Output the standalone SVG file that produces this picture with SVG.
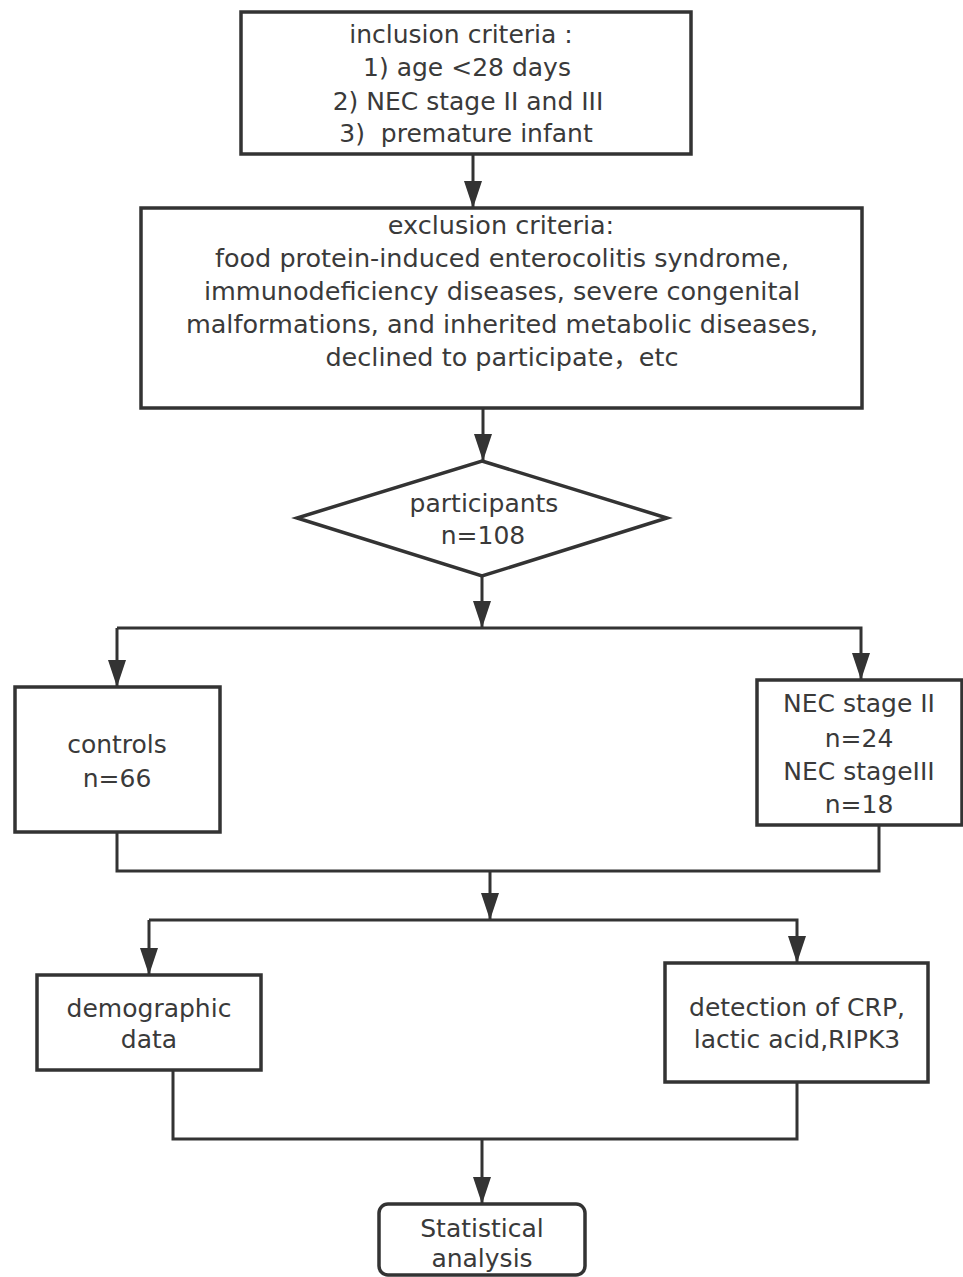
<svg xmlns="http://www.w3.org/2000/svg" width="963" height="1277" viewBox="0 0 963 1277">
<style>
.box{fill:#fff;stroke:#333;stroke-width:3.5}
.ln{fill:none;stroke:#333;stroke-width:3}
.t{font-family:"DejaVu Sans","Noto Sans CJK SC",sans-serif;font-size:25px;fill:#3a3a3a;text-anchor:middle}
.t27{font-size:25.5px}
</style>
<defs>
<marker id="ah" markerUnits="userSpaceOnUse" markerWidth="28" markerHeight="20" viewBox="0 0 28 20" refX="27" refY="10" orient="auto">
<path d="M0,1 L27,10 L0,19 z" fill="#333"/>
</marker>
</defs>
<rect width="963" height="1277" fill="#fff"/>
<g id="connectors">
<line class="ln" x1="473" y1="154" x2="473" y2="208" marker-end="url(#ah)"/>
<line class="ln" x1="483" y1="408" x2="483" y2="461" marker-end="url(#ah)"/>
<line class="ln" x1="482" y1="576" x2="482" y2="628" marker-end="url(#ah)"/>
<polyline class="ln" points="117,628 861,628 861,680" marker-end="url(#ah)"/>
<line class="ln" x1="117" y1="628" x2="117" y2="687" marker-end="url(#ah)"/>
<polyline class="ln" points="117,832 117,871 879,871 879,825"/>
<line class="ln" x1="490" y1="871" x2="490" y2="920" marker-end="url(#ah)"/>
<polyline class="ln" points="149,920 797,920 797,963" marker-end="url(#ah)"/>
<line class="ln" x1="149" y1="920" x2="149" y2="975" marker-end="url(#ah)"/>
<polyline class="ln" points="173,1070 173,1139 797,1139 797,1082"/>
<line class="ln" x1="482" y1="1139" x2="482" y2="1204" marker-end="url(#ah)"/>
</g>
<g id="inclusion">
<rect class="box" x="241" y="12" width="450" height="142"/>
<text class="t" x="461" y="43">inclusion criteria :</text>
<text class="t" x="467" y="76">1) age &lt;28 days</text>
<text class="t" x="468" y="110">2) NEC stage II and III</text>
<text class="t" x="466" y="142" xml:space="preserve">3)  premature infant</text>
</g>
<g id="exclusion">
<rect class="box" x="141" y="208" width="721" height="200"/>
<text class="t t27" x="501" y="234">exclusion criteria:</text>
<text class="t t27" x="502" y="267">food protein-induced enterocolitis syndrome,</text>
<text class="t t27" x="502" y="300">immunodeficiency diseases, severe congenital</text>
<text class="t t27" x="502" y="333">malformations, and inherited metabolic diseases,</text>
<text class="t t27" x="502" y="366">declined to participate，etc</text>
</g>
<g id="participants">
<polygon class="box" points="482,461 667,518 482,576 297,518"/>
<text class="t" x="484" y="512">participants</text>
<text class="t" x="483" y="544">n=108</text>
</g>
<g id="controls">
<rect class="box" x="15" y="687" width="205" height="145"/>
<text class="t" x="117" y="753">controls</text>
<text class="t" x="117" y="787">n=66</text>
</g>
<g id="nec">
<rect class="box" x="757" y="680" width="205" height="145"/>
<text class="t" x="859" y="712">NEC stage II</text>
<text class="t" x="859" y="747">n=24</text>
<text class="t" x="859" y="780">NEC stageIII</text>
<text class="t" x="859" y="813">n=18</text>
</g>
<g id="demographic">
<rect class="box" x="37" y="975" width="224" height="95"/>
<text class="t" x="149" y="1017">demographic</text>
<text class="t" x="149" y="1048">data</text>
</g>
<g id="detection">
<rect class="box" x="665" y="963" width="263" height="119"/>
<text class="t" x="797" y="1016">detection of CRP,</text>
<text class="t" x="797" y="1048">lactic acid,RIPK3</text>
</g>
<g id="statistical">
<rect class="box" x="379" y="1204" width="206" height="71" rx="9"/>
<text class="t" x="482" y="1237">Statistical</text>
<text class="t" x="482" y="1267">analysis</text>
</g>
</svg>
